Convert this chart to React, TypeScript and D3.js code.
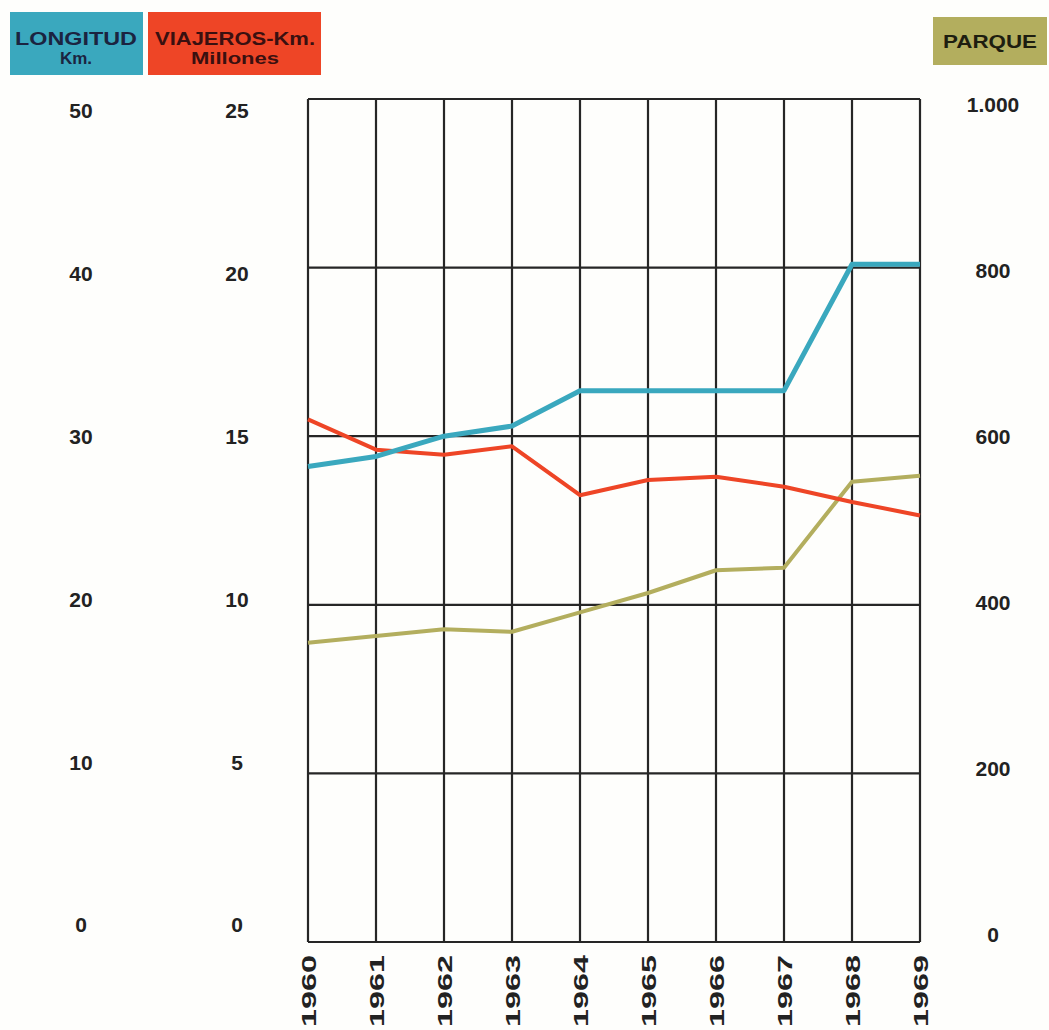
import React from 'react';
import * as d3 from 'd3';

// Data
const years = [1960, 1961, 1962, 1963, 1964, 1965, 1966, 1967, 1968, 1969];
const longitudKm = [28.2, 28.8, 30.0, 30.6, 32.7, 32.7, 32.7, 32.7, 40.2, 40.2];
const viajerosKm = [15.5, 14.6, 14.45, 14.7, 13.25, 13.7, 13.8, 13.5, 13.05, 12.65];
const parque = [355, 363, 371, 368, 391, 414, 441, 444, 546, 553];

const longitudTicks = [0, 10, 20, 30, 40, 50];
const viajerosTicks = [0, 5, 10, 15, 20, 25];
const parqueTicks = [0, 200, 400, 600, 800, 1000];

const W = 1049;
const H = 1030;
const FONT = '"Liberation Sans", Arial, sans-serif';

const TEAL = '#3aa8be';
const RED = '#ee4526';
const OLIVE = '#b3ae5e';

const App: React.FC = () => {
  const x = d3.scaleLinear().domain([1960, 1969]).range([308, 920]);
  const yV = d3.scaleLinear().domain([0, 25]).range([942, 99]);
  const yL = d3.scaleLinear().domain([0, 50]).range([942, 99]);
  const yP = d3.scaleLinear().domain([0, 1000]).range([942, 99]);

  // tick labels sit a bit off the gridlines in the original
  const labelL = d3.scaleLinear().domain([0, 50]).range([925, 111]);
  const labelV = d3.scaleLinear().domain([0, 25]).range([925, 111]);
  const labelP = d3.scaleLinear().domain([0, 1000]).range([935, 105]);

  const line = (ys: d3.ScaleLinear<number, number>) =>
    d3.line<number>()
      .x((_, i) => x(years[i]))
      .y(d => ys(d));

  const fmtP = (v: number) => (v >= 1000 ? d3.format(',')(v).replace(',', '.') : String(v));

  return (
    <svg width={W} height={H} style={{ position: 'absolute', left: 0, top: 0, background: '#fefefc' }}
      fontFamily={FONT}>
      {/* legend boxes */}
      <rect x={10} y={12} width={133} height={63} fill={TEAL} />
      <text x={76} y={45} textAnchor="middle" fontSize={19} fontWeight="bold" fill="#1b2440"
        textLength={122} lengthAdjust="spacingAndGlyphs">LONGITUD</text>
      <text x={76} y={64} textAnchor="middle" fontSize={17} fontWeight="bold" fill="#1b2440">Km.</text>

      <rect x={148} y={12} width={173} height={63} fill={RED} />
      <text x={235} y={45} textAnchor="middle" fontSize={19} fontWeight="bold" fill="#3a1010"
        textLength={160} lengthAdjust="spacingAndGlyphs">VIAJEROS-Km.</text>
      <text x={235} y={64} textAnchor="middle" fontSize={17} fontWeight="bold" fill="#3a1010"
        textLength={88} lengthAdjust="spacingAndGlyphs">Millones</text>

      <rect x={933} y={17} width={114} height={48} fill={OLIVE} />
      <text x={990} y={48} textAnchor="middle" fontSize={19} fontWeight="bold" fill="#1e1e10"
        textLength={94} lengthAdjust="spacingAndGlyphs">PARQUE</text>

      {/* grid */}
      <g stroke="#262626" strokeWidth={2.2} fill="none">
        {viajerosTicks.map(t => (
          <line key={'h' + t} x1={x(1960)} x2={x(1969)} y1={yV(t)} y2={yV(t)} />
        ))}
        {years.map(yr => (
          <line key={'v' + yr} x1={x(yr)} x2={x(yr)} y1={yV(0)} y2={yV(25)} />
        ))}
      </g>

      {/* series */}
      <path d={line(yP)(parque) || ''} fill="none" stroke={OLIVE} strokeWidth={4} strokeLinejoin="round" />
      <path d={line(yV)(viajerosKm) || ''} fill="none" stroke={RED} strokeWidth={4} strokeLinejoin="round" />
      <path d={line(yL)(longitudKm) || ''} fill="none" stroke={TEAL} strokeWidth={5} strokeLinejoin="round" />

      {/* axes labels */}
      <g fontSize={21} fontWeight="bold" fill="#222" textAnchor="middle">
        {longitudTicks.map(t => (
          <text key={'l' + t} x={81} y={labelL(t)} dy="0.35em">{t}</text>
        ))}
        {viajerosTicks.map(t => (
          <text key={'vv' + t} x={237} y={labelV(t)} dy="0.35em">{t}</text>
        ))}
        {parqueTicks.map(t => (
          <text key={'p' + t} x={t >= 1000 ? 993 : 993} y={labelP(t)} dy="0.35em">{fmtP(t)}</text>
        ))}
      </g>

      {/* year labels */}
      <g fontSize={21} fontWeight="bold" fill="#222">
        {years.map(yr => (
          <text key={'y' + yr} transform={`translate(${x(yr) + 8},955) rotate(-90)`} textAnchor="end"
            textLength={72} lengthAdjust="spacingAndGlyphs">{yr}</text>
        ))}
      </g>
    </svg>
  );
};

export default App;
